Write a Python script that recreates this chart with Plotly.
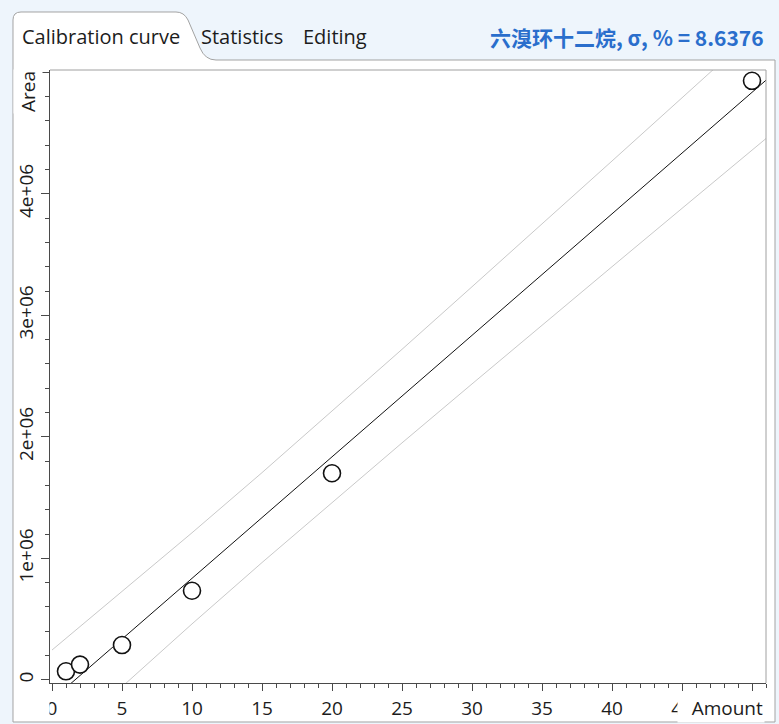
import re
import plotly.graph_objects as go

# ---------------- data ----------------
amount = [1, 2, 5, 10, 20, 50]
area = [70000, 125000, 286000, 733000, 1700000, 4930000]

fit_amount = [0, 51]
fit_area = [-165000, 4935000]

band_amount = [0, 5, 10, 15, 20, 25, 30, 35, 40, 45, 51]
band_upper = [245000, 725000, 1210000, 1705000, 2210000, 2720000,
              3235000, 3750000, 4270000, 4790000, 5415000]
band_lower = [-575000, -55000, 460000, 965000, 1460000, 1950000,
              2435000, 2920000, 3400000, 3880000, 4455000]

x_tickvals = [0, 5, 10, 15, 20, 25, 30, 35, 40, 45, 50]
x_ticktext = ["0", "5", "10", "15", "20", "25", "30", "35", "40", "45", ""]
y_tickvals = [0, 1000000, 2000000, 3000000, 4000000, 5000000]
y_ticktext = ["0", "1e+06", "2e+06", "3e+06", "4e+06", ""]

x_label = "Amount"
y_label = "Area"
title_text = "六溴环十二烷, σ, % = 8.6376"
tabs = ["Calibration curve", "Statistics", "Editing"]

# ---------------- layout geometry (pixels) ----------------
W, H = 779, 724
L, R, T, B = 50, 766, 70, 683


def px(x):
    return (x - L) / (R - L)


def py(y):
    return (B - y) / (B - T)


def path_to_paper(p):
    def repl(m):
        x, y = float(m.group(1)), float(m.group(2))
        return "%.5f,%.5f" % (px(x), py(y))
    return re.sub(r"(-?[\d.]+),(-?[\d.]+)", repl, p)


FONT = "Open Sans, Noto Sans, sans-serif"
TXT = "#1c1c1c"
AX = "#4a4a4a"

fig = go.Figure()

fig.add_trace(go.Scatter(x=band_amount, y=band_upper, mode="lines",
                         line=dict(color="#c9c9c9", width=1), hoverinfo="skip"))
fig.add_trace(go.Scatter(x=band_amount, y=band_lower, mode="lines",
                         line=dict(color="#c9c9c9", width=1), hoverinfo="skip"))
fig.add_trace(go.Scatter(x=fit_amount, y=fit_area, mode="lines",
                         line=dict(color="#111111", width=1), hoverinfo="skip"))
fig.add_trace(go.Scatter(x=amount, y=area, mode="markers",
                         marker=dict(symbol="circle", size=17, color="white",
                                     line=dict(color="#111111", width=1.6)),
                         cliponaxis=False))

panel_path = ("M13,722 L13,20 Q13,12 21,12 L176,12 Q184,12 188,20 "
              "L200,48 Q205,60 216,60 L775,60 L775,722 Z")

shapes = [
    dict(type="path", xref="paper", yref="paper", path=path_to_paper(panel_path),
         fillcolor="white", line=dict(color="#a3a3a3", width=1), layer="below"),
    # plot box top / right borders
    dict(type="line", xref="paper", yref="paper", x0=px(L), y0=py(T), x1=px(R), y1=py(T),
         line=dict(color="#a0a0a0", width=1), layer="above"),
    dict(type="line", xref="paper", yref="paper", x0=px(R), y0=py(T), x1=px(R), y1=py(B),
         line=dict(color="#a0a0a0", width=1), layer="above"),
    # clipping of the labels at the lower-left corner
    dict(type="rect", xref="paper", yref="paper", x0=px(15), y0=py(684), x1=px(49.5), y1=py(720),
         fillcolor="white", line=dict(width=0), layer="above"),
]

annotations = [
    dict(text=tabs[0], xref="paper", yref="paper", x=px(20), y=py(37), xanchor="left",
         yanchor="middle", showarrow=False, font=dict(family=FONT, size=20, color=TXT)),
    dict(text=tabs[1], xref="paper", yref="paper", x=px(199), y=py(37), xanchor="left",
         yanchor="middle", showarrow=False, font=dict(family=FONT, size=20, color=TXT)),
    dict(text=tabs[2], xref="paper", yref="paper", x=px(301), y=py(37), xanchor="left",
         yanchor="middle", showarrow=False, font=dict(family=FONT, size=20, color=TXT)),
    dict(text="<b>" + title_text + "</b>", xref="paper", yref="paper", x=px(766), y=py(37),
         xanchor="right", yanchor="middle", showarrow=False,
         font=dict(family="Noto Sans CJK SC", size=21, color="#2a6ecc")),
    dict(text=x_label, xref="paper", yref="paper", x=px(765), y=py(708), xanchor="right",
         yanchor="middle", showarrow=False, width=84, align="right", bgcolor="white",
         font=dict(family=FONT, size=19, color=TXT)),
    dict(text=y_label, xref="paper", yref="paper", x=px(28), y=py(92), xanchor="center",
         yanchor="middle", showarrow=False, textangle=-90, bgcolor="white",
         font=dict(family=FONT, size=19, color=TXT)),
]

fig.update_layout(
    width=W, height=H,
    margin=dict(l=L, r=W - R, t=T, b=H - B, pad=0, autoexpand=False),
    paper_bgcolor="#eef5fc",
    plot_bgcolor="white",
    showlegend=False,
    shapes=shapes,
    annotations=annotations,
    font=dict(family=FONT, size=19, color=TXT),
)

fig.update_xaxes(
    range=[-0.143, 51.0], showgrid=False, zeroline=False, automargin=False,
    showline=True, linecolor=AX, linewidth=1,
    ticks="outside", ticklen=7, tickcolor=AX, tickwidth=1,
    tickmode="array", tickvals=x_tickvals, ticktext=x_ticktext,
    ticklabelstandoff=1,
    tickfont=dict(family=FONT, size=19, color=TXT),
    minor=dict(ticks="outside", dtick=1, ticklen=4, tickcolor=AX, showgrid=False),
)
fig.update_yaxes(
    range=[-26300, 5019000], showgrid=False, zeroline=False, automargin=False,
    showline=True, linecolor=AX, linewidth=1,
    ticks="outside", ticklen=8, tickcolor=AX, tickwidth=1,
    tickmode="array", tickvals=y_tickvals, ticktext=y_ticktext, tickangle=-90,
    tickfont=dict(family=FONT, size=19, color=TXT),
    minor=dict(ticks="outside", dtick=200000, ticklen=4, tickcolor=AX, showgrid=False),
)

fig.write_html(
    "out.html",
    config={"displayModeBar": False},
    post_script="document.body.style.margin='0';document.body.style.overflow='hidden';",
)
